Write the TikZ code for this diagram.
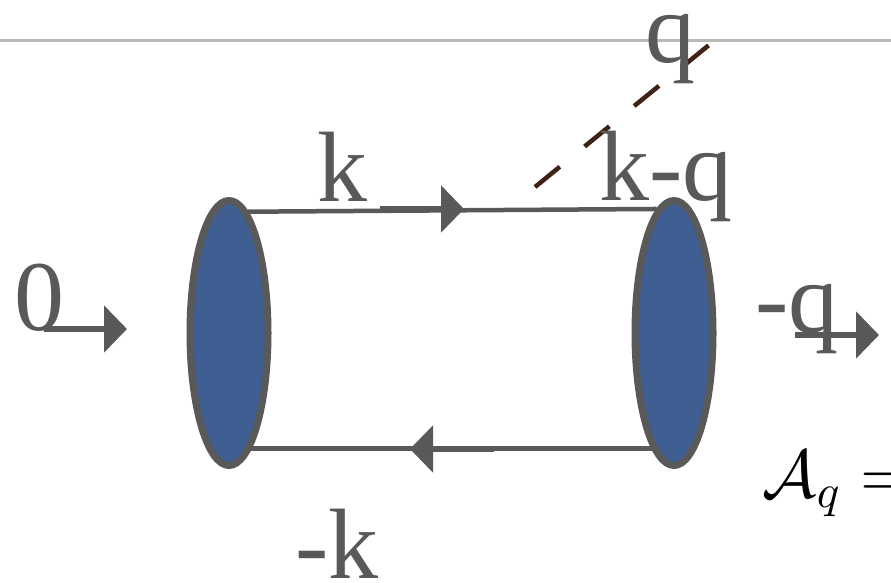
\documentclass[tikz,border=0pt]{standalone}
\usepackage{amsmath,amssymb}
\usepackage{fontspec}
\setmainfont{Liberation Serif}
\usepackage{xcolor}
\usetikzlibrary{shapes.geometric, arrows.meta}
\definecolor{inkgrey}{HTML}{595959}
\definecolor{blobblue}{HTML}{3F5E92}
\definecolor{rulegrey}{HTML}{B9BAB3}
\definecolor{dashbrown}{HTML}{3F2115}
\tikzset{
    blob/.style={ellipse, draw=inkgrey, fill=blobblue, line width=7pt, minimum width=78pt, minimum height=265pt, inner sep=0pt},
    propline/.style={draw=inkgrey, line width=4.5pt},
    flowarrow/.style={draw=inkgrey, line width=6.5pt, -{Triangle[length=23pt,width=46pt,fill=inkgrey]}},
    momlabel/.style={text=inkgrey, anchor=base, inner sep=0pt, font=\fontsize{100}{100}\selectfont}
}

\begin{document}
\begin{tikzpicture}[x=1pt, y=-1pt]
    \clip (0,0) rectangle (891,582);
    \fill[white] (0,0) rectangle (891,582);

    % Top rule
    \coordinate (ruleL) at (0,40);
    \coordinate (ruleR) at (891,40);
    \draw[rulegrey, line width=3pt] (ruleL) -- (ruleR);

    % Dashed line
    \coordinate (dashStart) at (535,187);
    \coordinate (dashEnd) at (709,45);
    \draw[dashbrown, line width=4.5pt, dash pattern=on 32pt off 32pt] (dashStart) -- (dashEnd);

    % Blobs
    \node[blob] (blobL) at (229,333) {};
    \node[blob] (blobR) at (674,333) {};

    % Top line
    \draw[propline] (blobL.81.5) -- (blobR.98.5);
    \coordinate (topTail) at (380,209);
    \coordinate (topTip) at (464,209);
    \draw[flowarrow] (topTail) -- (topTip);

    % Bottom line
    \draw[propline] (blobL.-79.7) -- (blobR.-101);
    \coordinate (botTail) at (494,449);
    \coordinate (botTip) at (410,449);
    \draw[flowarrow] (botTail) -- (botTip);

    % Outer arrows
    \coordinate (inTail) at (44,329);
    \coordinate (inTip) at (127,329);
    \draw[flowarrow] (inTail) -- (inTip);
    \coordinate (outTail) at (795,335);
    \coordinate (outTip) at (879,335);
    \draw[flowarrow] (outTail) -- (outTip);

    % Labels
    \node[momlabel] (labK) at (342,201) {k};
    \node[momlabel] (labKq) at (666,200) {k-q};
    \node[momlabel] (labQ) at (670,62) {q};
    \node[momlabel] (lab0) at (39,330) {0};
    \node[momlabel] (labMq) at (797,332) {-q};
    \node[momlabel] (labMk) at (337,578) {-k};
    \node[anchor=base west, inner sep=0pt, scale=4.7, font=\Large] (labA) at (762,497) {$\mathcal{A}_q =$};
\end{tikzpicture}
\end{document}
